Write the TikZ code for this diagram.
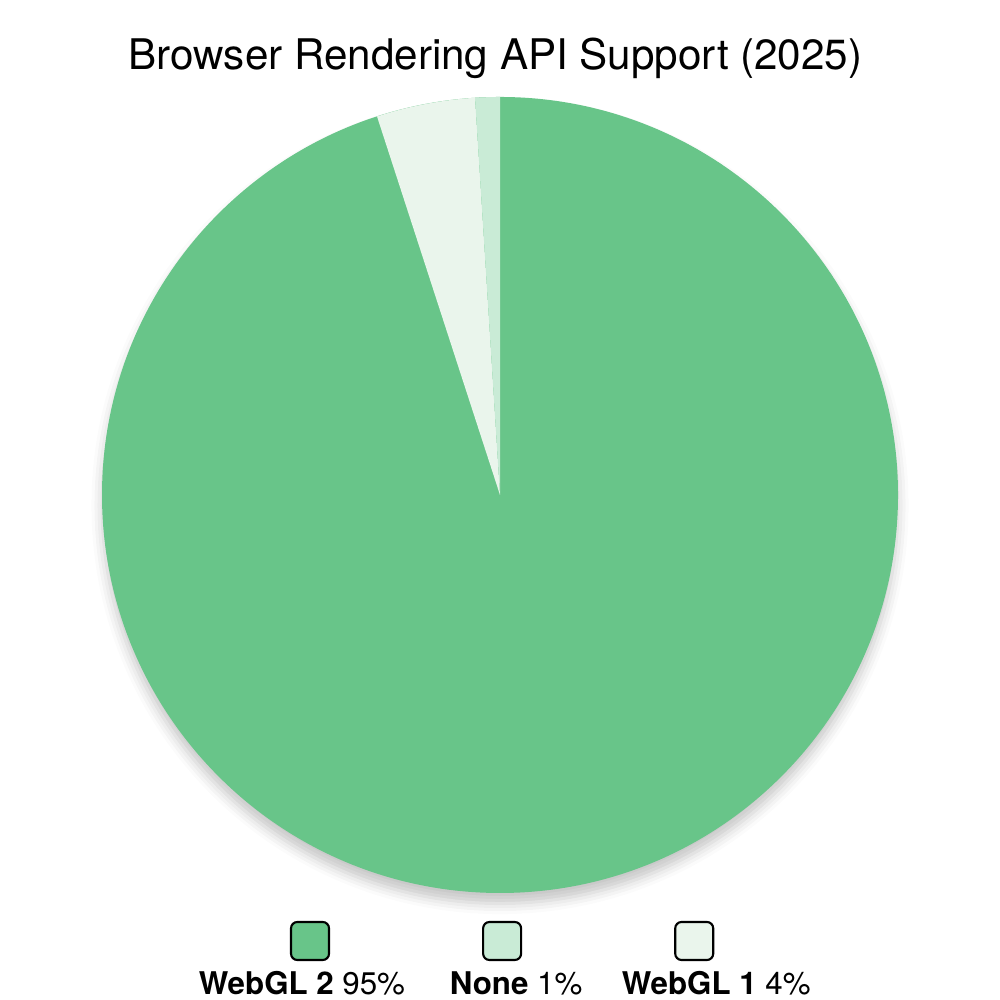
\documentclass[tikz,border=0pt]{standalone}
\usepackage{fontspec}
\setmainfont{TeX Gyre Heros}
\usetikzlibrary{positioning, shadows.blur}
\definecolor{webgltwo}{HTML}{68C589}
\definecolor{nonecol}{HTML}{C9EBD6}
\definecolor{webglone}{HTML}{EAF5EC}
\tikzstyle{swatch} = [
	rectangle,
	rounded corners=1.8pt,
	minimum width=0.38cm,
	minimum height=0.38cm,
	inner sep=0pt,
	draw=black,
	line width=0.6pt,
]
\tikzstyle{legendtext} = [
	font=\fontsize{8.9}{11}\selectfont,
	inner sep=0pt,
	text=black,
]
\tikzstyle{pieshadow} = [
	blur shadow={shadow xshift=0pt, shadow yshift=-3pt, shadow blur radius=3pt, shadow opacity=22},
]
\begin{document}
\begin{tikzpicture}
		\useasboundingbox (0,0) rectangle (10,10);
		\coordinate (centre) at (5,5.05);
		\def\rad{3.98}

		\node (title) at (4.955, 9.42) {\fontsize{12}{14}\selectfont Browser Rendering API Support (2025)};

		% pie: WebGL 2 is the full disc, the two thin slices go on top
		\fill [webgltwo, pieshadow] (centre) circle (\rad);
		\fill [webglone] (centre) -- ++(93.6:\rad) arc[start angle=93.6, end angle=108, radius=\rad] -- cycle;
		\fill [nonecol] (centre) -- ++(90:\rad) arc[start angle=90, end angle=93.6, radius=\rad] -- cycle;

		% legend
		\node (swtwo) [swatch, fill=webgltwo] at (3.10, 0.59) {};
		\node (swnone) [swatch, fill=nonecol, right=1.52cm of swtwo] {};
		\node (swone) [swatch, fill=webglone, right=1.52cm of swnone] {};

		\node (lbtwo) [legendtext, below=0.1cm of swtwo, xshift=-0.08cm] {\textbf{WebGL 2} 95\%};
		\node (lbnone) [legendtext, below=0.1cm of swnone, xshift=0.14cm] {\textbf{None} 1\%};
		\node (lbone) [legendtext, below=0.1cm of swone, xshift=0.22cm] {\textbf{WebGL 1} 4\%};
	\end{tikzpicture}
\end{document}
